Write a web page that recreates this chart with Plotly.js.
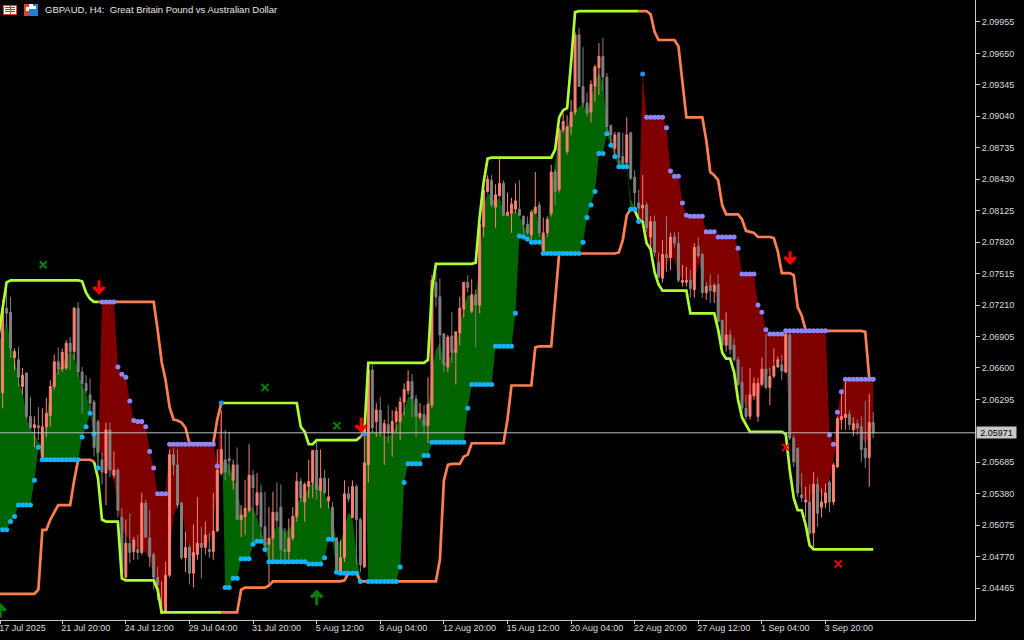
<!DOCTYPE html>
<html><head><meta charset="utf-8">
<script src="https://cdn.plot.ly/plotly-3.0.1.min.js"></script>
<style>html,body{margin:0;padding:0;background:#000;overflow:hidden}#chart{width:1024px;height:640px}</style>
</head><body><div id="chart"></div>
<script>
// All series are prices in pips (price x 10000), one value per H4 bar.
const pipOpen = [
20636,20718,20714,20670,20668,20642,20655,20613,20602,20604,
20571,20603,20614,20642,20666,20659,20660,20684,20676,20718,
20656,20645,20634,20627,20608,20571,20558,20600,20556,20561,
20515,20457,20490,20482,20484,20481,20529,20495,20479,20457,
20422,20423,20459,20576,20566,20529,20476,20486,20461,20479,
20490,20486,20484,20482,20502,20558,20571,20572,20551,20566,
20513,20516,20522,20556,20527,20539,20506,20489,20495,20520,
20525,20484,20482,20495,20516,20550,20530,20545,20549,20580,
20541,20553,20531,20525,20495,20462,20476,20538,20515,20545,
20513,20467,20566,20658,20608,20619,20597,20605,20597,20608,
20608,20627,20638,20647,20630,20612,20615,20604,20624,20743,
20729,20693,20661,20691,20675,20694,20717,20743,20715,20731,
20721,20797,20831,20842,20816,20827,20839,20808,20810,20814,
20814,20807,20799,20789,20810,20818,20773,20791,20810,20850,
20833,20891,20870,20894,20908,20983,20933,20917,20908,20933,
20951,20962,20942,20895,20873,20888,20865,20859,20888,20845,
20820,20815,20818,20787,20802,20762,20747,20770,20767,20787,
20781,20743,20743,20745,20736,20778,20770,20733,20740,20734,
20741,20706,20682,20692,20682,20668,20646,20621,20613,20633,
20613,20644,20659,20641,20652,20661,20663,20656,20692,20592,
20582,20537,20530,20530,20500,20547,20525,20529,20549,20530,
20564,20610,20612,20615,20600,20606,20603,20582,20573,20607];
const pipHigh = [
20726,20736,20729,20679,20680,20660,20656,20632,20613,20622,
20621,20631,20648,20673,20680,20679,20687,20690,20719,20724,
20661,20653,20650,20629,20610,20578,20607,20607,20579,20563,
20524,20513,20519,20496,20498,20539,20532,20522,20481,20467,
20453,20472,20581,20582,20581,20530,20501,20488,20508,20535,
20506,20511,20500,20539,20581,20619,20600,20598,20571,20583,
20527,20551,20586,20561,20558,20547,20540,20525,20540,20549,
20547,20505,20514,20525,20559,20553,20549,20571,20580,20588,
20581,20561,20553,20530,20496,20493,20551,20545,20551,20547,
20515,20595,20663,20663,20626,20632,20610,20624,20619,20622,
20632,20645,20658,20654,20634,20626,20624,20651,20750,20752,
20747,20694,20692,20714,20695,20729,20743,20750,20746,20736,
20801,20842,20847,20847,20838,20864,20842,20830,20825,20839,
20842,20808,20807,20813,20850,20821,20806,20807,20857,20852,
20893,20907,20905,20920,20986,20990,20971,20927,20939,20954,
20975,20980,20946,20896,20889,20889,20888,20903,20889,20852,
20833,20847,20821,20807,20808,20772,20784,20807,20791,20792,
20792,20760,20758,20755,20781,20787,20772,20743,20751,20742,
20751,20707,20714,20697,20689,20671,20661,20634,20660,20651,
20650,20670,20693,20660,20679,20671,20673,20695,20694,20595,
20583,20558,20545,20547,20559,20554,20543,20548,20551,20568,
20613,20637,20650,20619,20612,20610,20613,20628,20635,20617];
const pipLow = [
20621,20700,20670,20658,20642,20634,20610,20600,20583,20590,
20571,20593,20603,20639,20653,20656,20658,20658,20668,20651,
20616,20636,20617,20574,20564,20547,20527,20554,20553,20515,
20459,20456,20471,20474,20474,20479,20495,20467,20445,20435,
20422,20422,20457,20556,20524,20474,20462,20450,20447,20474,
20456,20479,20476,20474,20501,20556,20551,20556,20542,20513,
20496,20498,20520,20491,20517,20495,20482,20451,20474,20506,
20474,20469,20474,20493,20511,20530,20511,20534,20534,20532,
20524,20537,20524,20491,20461,20461,20472,20530,20515,20469,
20462,20466,20549,20598,20593,20593,20566,20587,20574,20598,
20590,20614,20634,20612,20593,20610,20597,20587,20621,20719,
20668,20656,20656,20665,20644,20682,20709,20733,20713,20680,
20713,20787,20830,20816,20796,20826,20807,20807,20791,20810,
20807,20789,20789,20784,20810,20787,20772,20787,20807,20818,
20830,20888,20867,20886,20905,20933,20913,20904,20898,20918,
20925,20928,20888,20876,20864,20854,20855,20855,20842,20813,
20804,20804,20792,20772,20768,20747,20743,20753,20755,20777,
20743,20739,20739,20728,20728,20767,20728,20726,20723,20723,
20704,20680,20676,20673,20666,20642,20616,20610,20610,20629,
20608,20642,20639,20624,20650,20660,20648,20655,20590,20564,
20535,20530,20515,20498,20486,20506,20515,20524,20520,20527,
20563,20600,20600,20600,20594,20595,20569,20563,20545,20592];
const pipClose = [
20718,20713,20679,20676,20651,20653,20613,20602,20605,20602,
20603,20616,20642,20666,20659,20675,20684,20676,20718,20656,
20645,20638,20626,20583,20578,20559,20600,20561,20561,20522,
20461,20490,20481,20493,20481,20529,20496,20477,20457,20450,
20425,20459,20576,20566,20527,20476,20486,20461,20481,20490,
20486,20498,20482,20502,20561,20581,20559,20570,20566,20513,
20517,20524,20556,20544,20539,20506,20488,20495,20520,20512,
20484,20482,20495,20516,20550,20534,20547,20550,20580,20542,
20553,20539,20535,20495,20464,20476,20538,20533,20545,20513,
20469,20568,20658,20602,20619,20597,20606,20597,20608,20618,
20627,20639,20647,20630,20613,20616,20604,20625,20745,20729,
20692,20663,20690,20675,20695,20718,20743,20738,20731,20721,
20799,20832,20843,20818,20828,20839,20808,20811,20819,20822,
20808,20799,20791,20811,20816,20791,20791,20804,20850,20831,
20891,20899,20894,20908,20983,20933,20917,20907,20935,20952,
20962,20942,20894,20886,20886,20864,20859,20886,20844,20830,
20815,20818,20796,20802,20772,20748,20770,20767,20787,20781,
20745,20745,20745,20737,20777,20769,20733,20739,20735,20740,
20705,20682,20692,20678,20668,20644,20621,20613,20634,20645,
20645,20659,20641,20652,20662,20668,20657,20693,20592,20569,
20539,20534,20532,20500,20547,20519,20530,20539,20530,20566,
20611,20613,20615,20605,20606,20602,20581,20573,20607,20597];
const upperBand = [
20716,20743,20745,20745,20745,20745,20745,20745,20745,20745,
20745,20745,20745,20745,20745,20745,20745,20745,20745,20745,
20744,20733,20727,20724,20724,20724,20724,20724,20724,20724,
20724,20724,20724,20724,20724,20724,20724,20724,20724,20697,
20666,20648,20622,20610,20609,20607,20602,20587,20587,20587,
20587,20587,20587,20587,20610,20626,20626,20626,20626,20626,
20626,20626,20626,20626,20626,20626,20626,20626,20626,20626,
20626,20626,20626,20626,20626,20603,20598,20586,20586,20590,
20590,20590,20590,20590,20590,20590,20590,20590,20590,20590,
20593,20598,20665,20665,20665,20665,20665,20665,20665,20665,
20665,20665,20665,20665,20665,20665,20665,20668,20736,20761,
20761,20761,20761,20761,20761,20761,20761,20761,20761,20762,
20806,20840,20863,20864,20864,20864,20864,20864,20864,20864,
20864,20864,20864,20864,20864,20864,20864,20864,20864,20872,
20903,20910,20912,20956,21005,21006,21006,21006,21006,21006,
21006,21006,21006,21006,21006,21006,21006,21006,21006,21006,
21006,21006,21006,21003,20986,20978,20978,20978,20978,20978,
20972,20935,20903,20903,20903,20903,20903,20881,20850,20847,
20842,20818,20809,20809,20809,20809,20804,20793,20792,20791,
20787,20787,20787,20787,20786,20773,20752,20752,20752,20750,
20719,20711,20697,20696,20696,20696,20696,20696,20696,20696,
20696,20696,20696,20696,20696,20696,20696,20695,20650,20650];
const lowerBand = [
20441,20441,20441,20441,20441,20441,20441,20441,20441,20445,
20503,20503,20513,20520,20527,20527,20527,20527,20551,20571,
20571,20571,20571,20569,20553,20513,20511,20511,20511,20511,
20456,20454,20454,20454,20454,20454,20454,20454,20454,20445,
20423,20423,20423,20423,20423,20423,20423,20423,20423,20423,
20423,20423,20423,20423,20423,20423,20423,20423,20423,20423,
20445,20447,20447,20447,20447,20447,20447,20449,20453,20453,
20453,20453,20453,20453,20453,20453,20453,20453,20453,20453,
20453,20453,20453,20453,20453,20453,20454,20461,20461,20461,
20453,20453,20453,20453,20453,20453,20453,20453,20453,20453,
20453,20453,20453,20453,20453,20453,20453,20453,20453,20453,
20474,20551,20566,20567,20567,20567,20574,20576,20587,20587,
20587,20587,20587,20587,20587,20587,20587,20610,20643,20643,
20643,20643,20643,20643,20680,20681,20681,20681,20681,20726,
20771,20771,20771,20771,20771,20771,20771,20771,20771,20771,
20771,20771,20771,20771,20771,20772,20784,20808,20814,20813,
20804,20802,20781,20775,20753,20741,20735,20735,20735,20735,
20735,20735,20735,20713,20713,20713,20713,20713,20713,20713,
20697,20675,20669,20669,20656,20629,20612,20605,20598,20598,
20598,20598,20598,20598,20598,20598,20598,20596,20561,20534,
20522,20522,20508,20488,20484,20484,20484,20484,20484,20484,
20484,20484,20484,20484,20484,20484,20484,20484,20484,20484];
const signalDots = [
20503,20503,20511,20516,20527,20527,20527,20527,20551,20583,
20571,20571,20571,20571,20571,20571,20571,20571,20571,20571,
20593,20603,20616,20596,20563,20724,20724,20724,20724,20661,
20654,20651,20628,20609,20608,20608,20603,20579,20563,20538,
20538,20538,20586,20586,20586,20586,20586,20586,20586,20586,
20586,20586,20586,20586,20565,20626,20447,20447,20456,20456,
20475,20475,20475,20489,20492,20492,20484,20472,20472,20472,
20472,20472,20472,20472,20472,20472,20472,20470,20470,20470,
20470,20476,20494,20494,20462,20461,20461,20461,20461,20461,
20453,20596,20453,20453,20453,20453,20453,20453,20453,20453,
20467,20549,20567,20567,20567,20567,20575,20575,20588,20588,
20588,20588,20588,20588,20588,20588,20588,20621,20644,20644,
20644,20644,20644,20644,20681,20681,20681,20681,20681,20713,
20788,20787,20785,20782,20782,20782,20771,20771,20771,20771,
20771,20771,20771,20771,20771,20771,20782,20806,20818,20831,
20868,20868,20887,20876,20865,20855,20855,20855,20814,20814,
20802,20945,20903,20903,20903,20903,20903,20893,20851,20846,
20846,20820,20808,20807,20807,20807,20807,20792,20792,20792,
20787,20787,20787,20787,20787,20776,20751,20751,20751,20751,
20721,20714,20697,20693,20693,20693,20693,20696,20696,20696,
20696,20696,20696,20696,20696,20696,20696,20696,20595,20586,
20617,20637,20649,20649,20649,20649,20649,20649,20649,20649];
const smoothLine = [
20687,20707,20682,20671,20648,20637,20613,20600,20597,20588,
20585,20610,20636,20651,20660,20661,20671,20676,20673,20656,
20642,20636,20619,20600,20585,20576,20566,20561,20551,20527,
20503,20498,20493,20488,20485,20484,20481,20474,20459,20445,
20423,20435,20484,20517,20527,20530,20495,20479,20476,20482,
20488,20488,20493,20505,20553,20568,20569,20566,20553,20545,
20520,20515,20527,20524,20515,20501,20491,20491,20501,20506,
20506,20501,20503,20510,20527,20534,20537,20544,20549,20548,
20544,20537,20530,20513,20491,20491,20505,20520,20515,20479,
20456,20596,20595,20600,20597,20597,20595,20593,20597,20603,
20613,20619,20632,20632,20622,20613,20608,20616,20658,20678,
20684,20665,20665,20675,20680,20700,20719,20731,20729,20729,
20762,20816,20830,20826,20820,20826,20810,20808,20810,20813,
20807,20799,20791,20813,20815,20794,20784,20791,20836,20859,
20888,20894,20891,20907,20910,20913,20917,20907,20920,20936,
20947,20936,20894,20886,20869,20862,20859,20857,20823,20816,
20802,20804,20791,20777,20772,20752,20748,20760,20768,20765,
20748,20748,20745,20745,20741,20763,20752,20739,20739,20739,
20723,20690,20684,20680,20675,20651,20632,20622,20622,20636,
20626,20648,20651,20658,20665,20668,20665,20668,20610,20578,
20554,20539,20530,20530,20545,20547,20535,20539,20551,20571,
20593,20610,20612,20610,20600,20600,20593,20587,20593,20607];
// the bar just left of the visible window (its indicator values only)
const leadBar = -1, leadUpper = 20692, leadLower = 20441, leadSmooth = 20690, leadDots = 20503;
const lastPrice = 2.05971;
const yTickPrices = [2.09955,2.09650,2.09345,2.09040,2.08735,2.08430,2.08125,2.07820,2.07515,2.07210,2.06905,2.06600,2.06295,2.05685,2.05380,2.05075,2.04770,2.04465];
const yTickText = ["2.09955","2.09650","2.09345","2.09040","2.08735","2.08430","2.08125","2.07820","2.07515","2.07210","2.06905","2.06600","2.06295","2.05685","2.05380","2.05075","2.04770","2.04465"];
const xTickBars = [-0.6,15,31,47,63,79,95,111,127,143,159,175,191,207];
const xTickText = ["17 Jul 2025","21 Jul 20:00","24 Jul 12:00","29 Jul 04:00","31 Jul 20:00","5 Aug 12:00","8 Aug 04:00","12 Aug 20:00","15 Aug 12:00","20 Aug 04:00","22 Aug 20:00","27 Aug 12:00","1 Sep 04:00","3 Sep 20:00"];
const buyCrossBars = [10.2,66,84.1], buyCrossPips = [20760,20641,20604];
const sellCrossBars = [197,210.2], sellCrossPips = [20583,20470];
const downArrowBars = [24.25,90.2,198.1], downArrowTip = [20733,20599,20762], downArrowTail = [20745,20612,20773];
const upArrowBars = [-0.6,79], upArrowTip = [20430,20443], upArrowTail = [20418,20430];
const upperLimeRuns = [[0,24],[55,90],[91,160]], upperCoralRuns = [[24,55],[90,91],[160,219]];
const lowerLimeRuns = [[23,55],[158,219]], lowerCoralRuns = [[0,23],[55,158]];
const blueDotBars = [55,91,161];

const LIME='#ADFF2F', CORAL='#FF7F50', SALMON='#FA8072', GRAY='#808080';
const price = v => v==null ? null : v/10000;
const bars = pipOpen.map((_,i)=>i);
const n = bars.length;

// filled ribbon between smooth line and signal dots, split where they cross
const gx=[],gy=[],rx=[],ry=[];
const sgn = i => smoothLine[i]>=signalDots[i] ? 1 : -1;
function cross(i){
  const d0=smoothLine[i-1]-signalDots[i-1], d1=smoothLine[i]-signalDots[i];
  const t=d0/(d0-d1);
  return [i-1+t, smoothLine[i-1]+t*(smoothLine[i]-smoothLine[i-1])];
}
let a=0, startPt=null;
for(let i=1;i<=n;i++){
  if(i===n || sgn(i)!==sgn(a)){
    const endPt = i<n ? cross(i) : null;
    const X = sgn(a)>0?gx:rx, Y = sgn(a)>0?gy:ry;
    if(a===0){X.push(leadBar);Y.push(price(leadSmooth));}
    if(startPt){X.push(startPt[0]);Y.push(price(startPt[1]));}
    for(let k=a;k<i;k++){X.push(k);Y.push(price(smoothLine[k]));}
    if(endPt){X.push(endPt[0]);Y.push(price(endPt[1]));}
    for(let k=i-1;k>=a;k--){X.push(k);Y.push(price(signalDots[k]));}
    if(startPt){X.push(startPt[0]);Y.push(price(startPt[1]));}
    if(a===0){X.push(leadBar);Y.push(price(leadDots));}
    X.push(null);Y.push(null);
    a=i; startPt=endPt;
  }
}
const overlay={xaxis:'x2',yaxis:'y2'};
const quiet={hoverinfo:'skip',showlegend:false};
const traces=[
 Object.assign({type:'scatter',mode:'lines',x:gx,y:gy,fill:'toself',fillcolor:'#006400',line:{width:0,color:'#006400'}},quiet),
 Object.assign({type:'scatter',mode:'lines',x:rx,y:ry,fill:'toself',fillcolor:'#800000',line:{width:0,color:'#800000'}},quiet),
 Object.assign({type:'candlestick',x:bars,open:pipOpen.map(price),high:pipHigh.map(price),low:pipLow.map(price),close:pipClose.map(price),
  increasing:{line:{color:SALMON,width:1},fillcolor:SALMON},decreasing:{line:{color:GRAY,width:1},fillcolor:GRAY},whiskerwidth:0},overlay,quiet)
];
function addRuns(series,runs,color,lead){
  runs.forEach(r=>{
    let xs=bars.slice(r[0],r[1]+1), ys=series.slice(r[0],r[1]+1);
    if(r[0]===0){xs=[leadBar].concat(xs);ys=[lead].concat(ys);}
    traces.push(Object.assign({type:'scatter',mode:'lines',x:xs,y:ys.map(price),line:{color:color,width:2.7}},overlay,quiet));
  });
}
addRuns(lowerBand,lowerCoralRuns,CORAL,leadLower);
addRuns(upperBand,upperCoralRuns,CORAL,leadUpper);
addRuns(lowerBand,lowerLimeRuns,LIME,leadLower);
addRuns(upperBand,upperLimeRuns,LIME,leadUpper);
const dotColors=bars.map(i=>blueDotBars.includes(i)?'#1E90FF':(sgn(i)>0?'#12B4FF':'#8C86F5'));
traces.push(Object.assign({type:'scatter',mode:'markers',x:bars,y:signalDots.map(price),marker:{size:5,color:dotColors,line:{width:0}}},overlay,quiet));
traces.push(Object.assign({type:'scatter',mode:'markers',x:buyCrossBars,y:buyCrossPips.map(price),marker:{symbol:'x-thin',size:7,line:{width:2,color:'#008000'},color:'#008000'}},overlay,quiet));
traces.push(Object.assign({type:'scatter',mode:'markers',x:sellCrossBars,y:sellCrossPips.map(price),marker:{symbol:'x-thin',size:7,line:{width:2,color:'#FF0000'},color:'#FF0000'}},overlay,quiet));
// arrows: a thick shaft plus an open chevron head at the tip
function addArrows(xs,tips,tails,color,angle){
  const sx=[],sy=[];
  xs.forEach((x,i)=>{sx.push(x,x,null);sy.push(price(tails[i]),price(tips[i]),null);});
  traces.push(Object.assign({type:'scatter',mode:'lines',x:sx,y:sy,line:{color:color,width:3}},overlay,quiet));
  traces.push(Object.assign({type:'scatter',mode:'markers',x:xs,y:tips.map(price),marker:{symbol:'arrow-wide-open',angle:angle,size:8,color:color,line:{color:color,width:3}}},overlay,quiet));
}
addArrows(downArrowBars,downArrowTip,downArrowTail,'#FF0000',180);
addArrows(upArrowBars,upArrowTip,upArrowTail,'#008000',0);

const W=975,H=620;
const px=v=>v/W, py=v=>1-v/H;
const box=(x0,y0,x1,y1,fill)=>({type:'rect',xref:'paper',yref:'paper',x0:px(x0),x1:px(x1),y0:py(y0),y1:py(y1),fillcolor:fill,line:{width:0},layer:'above'});
const shapes=[
 {type:'line',xref:'paper',yref:'y',x0:0,x1:1,y0:lastPrice,y1:lastPrice,line:{color:'#C0C0C0',width:1},layer:'above'},
 box(3,5,17,15,'#E04030'),box(4,6,16,14,'#FFFFFF'),box(5,7,15,8,'#2060C0'),box(5,9,15,10,'#2060C0'),box(5,11,15,12,'#2060C0'),box(10,6,11,14,'#E04030'),
 box(24,4,38,16,'#FFFFFF'),box(24,4,29,16,'#E04030'),box(26,7,29,11,'#FFFFFF'),box(33,4,38,16,'#2080D0'),box(33,6,36,9,'#FFFFFF'),box(29,9,33,16,'#2080D0')
];
const annotations=[
 {xref:'paper',yref:'paper',x:px(42.5),y:py(10),xanchor:'left',yanchor:'middle',showarrow:false,align:'left',
  text:'GBPAUD, H4:\u00a0\u00a0Great Britain Pound vs Australian Dollar',font:{family:'Liberation Sans',size:9.5,color:'#E6E6E6'}},
 {xref:'paper',yref:'y',x:1,xanchor:'left',y:lastPrice,yanchor:'middle',xshift:1,showarrow:false,text:lastPrice.toFixed(5),bgcolor:'#C8C8C8',width:39,height:11,font:{family:'Liberation Sans',size:9,color:'#000'},borderpad:0}
];

const xr=[-0.654,244.6], yr=[2.04156,2.10168];
const layout={
 width:1024,height:640,paper_bgcolor:'#000',plot_bgcolor:'#000',showlegend:false,
 margin:{l:0,r:49,t:0,b:20,pad:0},
 xaxis:{range:xr,fixedrange:true,showgrid:false,zeroline:false,showline:true,linecolor:'#C8C8C8',linewidth:1,ticks:'outside',ticklen:3,tickcolor:'#C8C8C8',
  tickmode:'array',tickvals:xTickBars,ticktext:xTickText,ticklabelposition:'outside right',ticklabelshift:-2,ticklabelstandoff:-1,ticklabeloverflow:'allow',tickfont:{family:'Liberation Sans',size:9,color:'#DCDCDC'},tickangle:0,rangeslider:{visible:false}},
 yaxis:{range:yr,side:'right',fixedrange:true,showgrid:false,zeroline:false,showline:true,linecolor:'#C8C8C8',linewidth:1,ticks:'outside',ticklen:4,tickcolor:'#C8C8C8',
  tickmode:'array',tickvals:yTickPrices,ticktext:yTickText,tickfont:{family:'Liberation Sans',size:9,color:'#DCDCDC'}},
 xaxis2:{range:xr,overlaying:'x',visible:false,fixedrange:true,rangeslider:{visible:false}},
 yaxis2:{range:yr,overlaying:'y',visible:false,fixedrange:true,side:'right'},
 shapes:shapes,annotations:annotations
};
Plotly.newPlot('chart',traces,layout,{displayModeBar:false,staticPlot:true});
</script></body></html>
